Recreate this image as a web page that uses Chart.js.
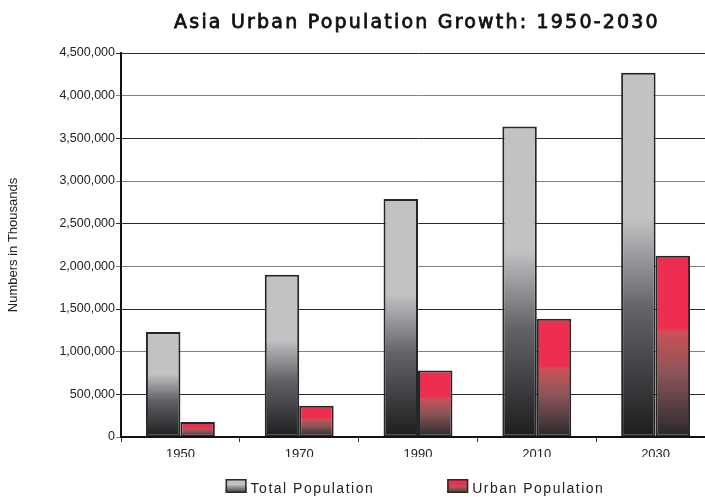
<!DOCTYPE html>
<html>
<head>
<meta charset="utf-8">
<script src="https://cdn.jsdelivr.net/npm/chart.js@4.4.1/dist/chart.umd.min.js"></script>
<style>
  html, body { margin: 0; padding: 0; background: #fff; overflow: hidden; }
  #wrap { width: 716px; height: 497px; position: relative; }
</style>
</head>
<body>
<div id="wrap"><canvas id="popChart"></canvas></div>
<script>
// Asia, population in thousands
const years = ["1950", "1970", "1990", "2010", "2030"];
const totalPopulation = [1230000, 1900000, 2790000, 3640000, 4270000];
const urbanPopulation = [175000, 365000, 780000, 1385000, 2125000];
const seriesNames = ["Total Population", "Urban Population"];
const chartTitle = "Asia Urban Population Growth: 1950-2030";

// vertical fill for each bar: solid on top, shading down to dark at the base
function barFill(kind) {
    return function (ctx) {
        const chart = ctx.chart;
        const y = chart.scales.y;
        if (!y || ctx.type !== "data") return kind === "gray" ? "#c1c2c4" : "#ee2e50";
        const base = y.getPixelForValue(0);
        const top = y.getPixelForValue(ctx.parsed.y);
        if (!isFinite(top) || base - top < 1) return kind === "gray" ? "#c1c2c4" : "#ee2e50";
        const g = chart.ctx.createLinearGradient(0, base, 0, top);
        if (kind === "gray") {
            g.addColorStop(0, "#1c1c1e");
            g.addColorStop(0.08, "#2c2d2f");
            g.addColorStop(0.35, "#626366");
            g.addColorStop(0.6, "#c1c2c4");
            g.addColorStop(1, "#c1c2c4");
        } else {
            g.addColorStop(0, "#2a2426");
            g.addColorStop(0.08, "#3e3335");
            g.addColorStop(0.35, "#8a5558");
            g.addColorStop(0.58, "#cb5157");
            g.addColorStop(0.6, "#ee2e50");
            g.addColorStop(1, "#ee2e50");
        }
        return g;
    };
}

function legendFill(ctx, kind, y, h) {
    const g = ctx.createLinearGradient(0, y + h, 0, y);
    if (kind === "gray") {
        g.addColorStop(0, "#3a3b3d");
        g.addColorStop(0.45, "#9a9b9e");
        g.addColorStop(0.6, "#c1c2c4");
        g.addColorStop(1, "#c1c2c4");
    } else {
        g.addColorStop(0, "#4a3b3d");
        g.addColorStop(0.45, "#b25459");
        g.addColorStop(0.58, "#cb5157");
        g.addColorStop(0.6, "#ee2e50");
        g.addColorStop(1, "#ee2e50");
    }
    return g;
}

// title and legend are centred over the plot area
const titleAndLegend = {
    id: "titleAndLegend",
    afterDraw(chart) {
        const ctx = chart.ctx;
        const area = chart.chartArea;
        const cx = (area.left + area.right) / 2 - 1;

        ctx.save();
        ctx.fillStyle = "#111";
        ctx.strokeStyle = "#111";
        ctx.lineWidth = 0.8;
        ctx.font = "19px 'DejaVu Sans', sans-serif";
        ctx.letterSpacing = "2.2px";
        ctx.textAlign = "center";
        ctx.textBaseline = "alphabetic";
        ctx.fillText(chartTitle, cx, 28);
        ctx.strokeText(chartTitle, cx, 28);
        ctx.restore();

        ctx.save();
        ctx.font = "14px 'Liberation Sans', Arial, sans-serif";
        ctx.letterSpacing = "1.5px";
        ctx.textBaseline = "alphabetic";
        const boxW = 21, boxH = 14, gapText = 4, gapItem = 73;
        const items = chart.data.datasets.map((ds, i) => ({
            label: ds.label,
            kind: i === 0 ? "gray" : "red",
            w: boxW + gapText + ctx.measureText(ds.label).width
        }));
        const total = items.reduce((s, it) => s + it.w, 0) + gapItem * (items.length - 1);
        let x = cx - 2 - total / 2;
        const boxTop = 479;
        items.forEach(it => {
            ctx.fillStyle = legendFill(ctx, it.kind, boxTop, boxH);
            ctx.fillRect(x, boxTop, boxW, boxH);
            ctx.strokeStyle = "#2a2a2a";
            ctx.lineWidth = 1.5;
            ctx.strokeRect(x + 0.75, boxTop + 0.75, boxW - 1.5, boxH - 1.5);
            ctx.fillStyle = "#222";
            ctx.textAlign = "left";
            ctx.fillText(it.label, x + boxW + gapText, 493);
            x += it.w + gapItem;
        });
        ctx.restore();
    }
};

new Chart(document.getElementById("popChart"), {
    type: "bar",
    data: {
        labels: years,
        datasets: [{
            label: seriesNames[0],
            data: totalPopulation,
            backgroundColor: barFill("gray"),
            borderColor: "#262626",
            borderWidth: 2,
            borderSkipped: false,
            categoryPercentage: 0.58,
            barPercentage: 1.0
        }, {
            label: seriesNames[1],
            data: urbanPopulation,
            backgroundColor: barFill("red"),
            borderColor: "#262626",
            borderWidth: 2,
            borderSkipped: false,
            categoryPercentage: 0.58,
            barPercentage: 1.0
        }]
    },
    options: {
        responsive: true,
        maintainAspectRatio: false,
        animation: false,
        layout: { padding: { top: 53, bottom: 40, left: 0, right: 1 } },
        plugins: {
            legend: { display: false },
            title: { display: false },
            tooltip: { enabled: false }
        },
        scales: {
            x: {
                afterFit: s => { s.height = 20; },
                grid: {
                    offset: true,
                    drawOnChartArea: false,
                    drawTicks: true,
                    tickLength: 5,
                    color: "#333",
                    lineWidth: 1
                },
                border: { display: true, color: "#111", width: 2 },
                ticks: {
                    color: "#222",
                    padding: 5,
                    font: { family: "'Liberation Sans', Arial, sans-serif", size: 13 }
                }
            },
            y: {
                min: 0,
                max: 4500000,
                afterFit: s => { s.width = 121; },
                grid: {
                    drawTicks: true,
                    tickLength: 5,
                    lineWidth: 1,
                    color: c => (c.tick && (c.tick.value / 500000) % 2 === 1) ? "#2a2a2a" : "#808080"
                },
                border: { display: true, color: "#111", width: 2 },
                ticks: {
                    stepSize: 500000,
                    color: "#222",
                    padding: 1,
                    font: { family: "'Liberation Sans', Arial, sans-serif", size: 12.5 },
                    callback: v => v.toLocaleString("en-US")
                },
                title: {
                    display: true,
                    text: "Numbers in Thousands",
                    color: "#222",
                    padding: { top: 6, bottom: 0 },
                    font: { family: "'Liberation Sans', Arial, sans-serif", size: 13 }
                }
            }
        }
    },
    plugins: [titleAndLegend]
});
</script>
</body>
</html>
